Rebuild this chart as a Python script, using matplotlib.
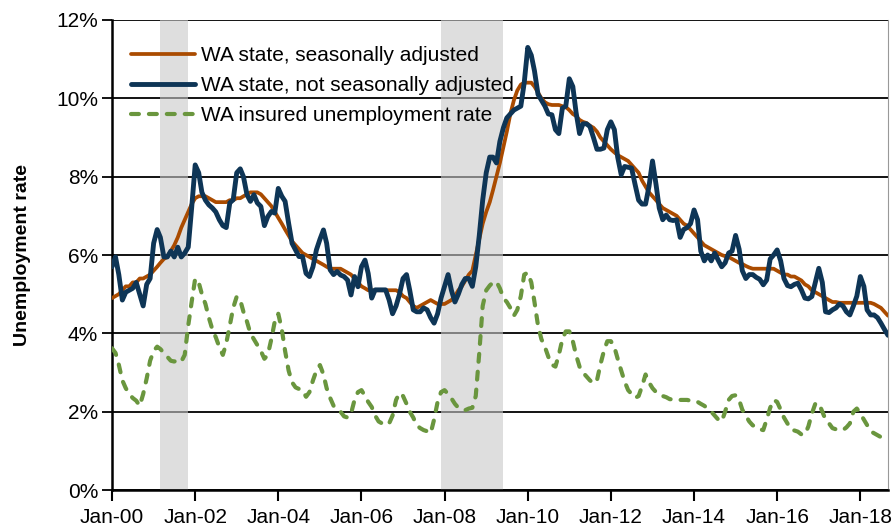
import pandas as pd
import matplotlib
matplotlib.use("Agg")
import matplotlib.pyplot as plt
import matplotlib.dates as mdates
from matplotlib.ticker import FuncFormatter

plt.rcParams['font.family'] = ['Liberation Sans', 'DejaVu Sans']

months = pd.date_range('2000-01-01', '2018-09-01', freq='MS')

# WA state, seasonally adjusted (%)
wa_sa = [
    4.9, 4.95, 5.0, 5.1, 5.2, 5.2, 5.3, 5.3, 5.4, 5.4, 5.45, 5.5,
    5.6, 5.7, 5.8, 5.9, 5.95, 6.1, 6.25, 6.45, 6.7, 6.9, 7.1, 7.3,
    7.45, 7.5, 7.5, 7.5, 7.45, 7.4, 7.35, 7.35, 7.35, 7.35, 7.4, 7.4,
    7.45, 7.45, 7.5, 7.55, 7.6, 7.6, 7.6, 7.55, 7.45, 7.35, 7.25, 7.1,
    6.95, 6.8, 6.65, 6.5, 6.35, 6.25, 6.15, 6.05, 6.0, 5.95, 5.9, 5.85,
    5.8, 5.75, 5.7, 5.65, 5.65, 5.65, 5.65, 5.6, 5.55, 5.5, 5.4, 5.3,
    5.2, 5.15, 5.1, 5.1, 5.1, 5.1, 5.1, 5.1, 5.1, 5.1, 5.1, 5.05,
    4.95, 4.9, 4.8, 4.7, 4.65, 4.7, 4.75, 4.8, 4.85, 4.8, 4.75, 4.75,
    4.75, 4.8, 4.85, 4.95, 5.1, 5.2, 5.35, 5.5, 5.6, 6.0, 6.4, 6.8,
    7.1, 7.35, 7.65, 8.0, 8.35, 8.75, 9.15, 9.6, 9.95, 10.2, 10.35, 10.4,
    10.4, 10.4, 10.3, 10.15, 10.0, 9.9, 9.85, 9.83, 9.83, 9.83, 9.8, 9.78,
    9.7, 9.6, 9.55, 9.45, 9.4, 9.37, 9.3, 9.25, 9.15, 9.0, 8.9, 8.8,
    8.7, 8.62, 8.55, 8.5, 8.45, 8.4, 8.3, 8.2, 8.1, 7.9, 7.75, 7.6,
    7.5, 7.4, 7.3, 7.2, 7.15, 7.1, 7.05, 7.0, 6.9, 6.8, 6.75, 6.65,
    6.55, 6.45, 6.35, 6.25, 6.2, 6.15, 6.1, 6.05, 6.0, 5.97, 5.95, 5.9,
    5.85, 5.8, 5.77, 5.72, 5.68, 5.65, 5.65, 5.65, 5.65, 5.65, 5.65, 5.65,
    5.6, 5.55, 5.5, 5.5, 5.45, 5.45, 5.4, 5.35, 5.25, 5.2, 5.1, 5.05,
    5.0, 4.95, 4.9, 4.85, 4.8, 4.8, 4.78, 4.78, 4.78, 4.78, 4.78, 4.78,
    4.78, 4.78, 4.78, 4.78, 4.75, 4.7, 4.65, 4.55, 4.45,
]

# WA state, not seasonally adjusted (%)
wa_nsa = [
    5.7, 5.95, 5.5, 4.85, 5.05, 5.1, 5.15, 5.3, 5.0, 4.7, 5.25, 5.4,
    6.3, 6.65, 6.45, 5.95, 5.95, 6.1, 5.95, 6.2, 5.95, 6.05, 6.2, 7.2,
    8.3, 8.1, 7.6, 7.4, 7.28, 7.2, 7.1, 6.9, 6.75, 6.7, 7.33, 7.41,
    8.1, 8.2, 8.0, 7.54, 7.37, 7.54, 7.33, 7.24, 6.75, 6.98, 7.11, 7.07,
    7.7, 7.5, 7.37, 6.81, 6.3, 6.13, 5.96, 5.96, 5.53, 5.45, 5.7, 6.13,
    6.4, 6.64, 6.3, 5.62, 5.5, 5.58, 5.49, 5.45, 5.36, 4.98, 5.45, 5.19,
    5.7, 5.87, 5.53, 4.9, 5.11, 5.11, 5.11, 5.11, 4.85, 4.5, 4.7, 5.0,
    5.4, 5.5, 5.1, 4.6, 4.55, 4.55, 4.65, 4.6, 4.4, 4.26, 4.5, 4.9,
    5.2, 5.5, 5.1, 4.8, 5.0, 5.25, 5.4, 5.4, 5.2, 5.7, 6.5, 7.4,
    8.1, 8.5, 8.5, 8.35, 8.9, 9.25, 9.5, 9.6, 9.7, 9.75, 9.8, 10.4,
    11.3, 11.1, 10.7, 10.1, 9.95, 9.8, 9.6, 9.58, 9.2, 9.1, 9.75, 9.8,
    10.5, 10.3, 9.65, 9.1, 9.35, 9.35, 9.28, 9.0, 8.7, 8.7, 8.73, 9.2,
    9.4, 9.2, 8.5, 8.05, 8.26, 8.24, 8.22, 7.8, 7.4, 7.3, 7.3, 7.75,
    8.4, 7.8, 7.2, 6.9, 7.02, 6.9, 6.88, 6.9, 6.45, 6.65, 6.7, 6.8,
    7.15, 6.9, 6.1, 5.85, 6.0, 5.85, 6.05, 5.87, 5.7, 5.8, 6.05, 6.1,
    6.5, 6.15, 5.6, 5.4, 5.5, 5.5, 5.43, 5.38, 5.24, 5.36, 5.9, 6.0,
    6.13, 5.85, 5.4, 5.22, 5.19, 5.25, 5.28, 5.11, 4.9, 4.88, 4.94, 5.3,
    5.66, 5.3, 4.55, 4.53, 4.6, 4.65, 4.75, 4.7, 4.55, 4.47, 4.7, 4.95,
    5.45, 5.2, 4.6, 4.47, 4.47, 4.4, 4.26, 4.1, 3.95,
]

# WA insured unemployment rate (%)
wa_insured = [
    3.62, 3.5, 3.2, 2.8, 2.6, 2.45, 2.35, 2.28, 2.15, 2.45, 2.85, 3.3,
    3.55, 3.66, 3.6, 3.5, 3.4, 3.3, 3.28, 3.32, 3.28, 3.45, 4.2, 4.8,
    5.4, 5.3, 5.0, 4.75, 4.4, 4.1, 3.9, 3.65, 3.45, 3.75, 4.2, 4.65,
    4.94, 4.85, 4.55, 4.3, 4.0, 3.85, 3.7, 3.55, 3.35, 3.45, 3.85, 4.3,
    4.5, 4.1, 3.55, 3.05, 2.75, 2.62, 2.58, 2.55, 2.38, 2.5, 2.8, 3.05,
    3.19, 2.95, 2.6, 2.35, 2.15, 2.05, 2.0, 1.88, 1.85, 1.95, 2.3, 2.5,
    2.55, 2.4, 2.25, 2.12, 1.9, 1.75, 1.7, 1.66, 1.7, 1.9, 2.3, 2.48,
    2.4, 2.2, 2.0, 1.85, 1.65, 1.58, 1.53, 1.5, 1.45, 1.8, 2.25, 2.5,
    2.55, 2.45, 2.34, 2.2, 2.1, 2.05, 2.04, 2.08, 2.1, 2.4, 3.5, 4.7,
    5.1, 5.22, 5.3, 5.32, 5.15, 4.9, 4.8, 4.65, 4.45, 4.6, 4.95, 5.5,
    5.55, 5.3, 4.8, 4.2, 3.85, 3.65, 3.4, 3.2, 3.15, 3.45, 3.85, 4.05,
    4.05, 3.8, 3.45, 3.15, 3.0, 2.9, 2.8, 2.72, 2.8, 3.2, 3.55, 3.8,
    3.8, 3.65, 3.35, 3.05, 2.77, 2.55, 2.45, 2.35, 2.4, 2.65, 2.95, 2.75,
    2.6, 2.5, 2.43, 2.4, 2.37, 2.32, 2.31, 2.3, 2.3, 2.3, 2.3, 2.28,
    2.27, 2.25, 2.2, 2.15, 2.08, 2.0, 1.9, 1.8, 1.75, 2.0, 2.3, 2.4,
    2.42, 2.3, 2.05, 1.9, 1.75, 1.65, 1.62, 1.55, 1.53, 1.8, 2.1, 2.3,
    2.25, 2.05, 1.85, 1.7, 1.55, 1.52, 1.49, 1.42, 1.42, 1.62, 1.95, 2.2,
    2.22, 2.0, 1.8, 1.7, 1.58, 1.55, 1.53, 1.53, 1.6, 1.7, 2.0, 2.08,
    1.95, 1.8, 1.66, 1.5, 1.45, 1.4, 1.35, 1.3, 1.25,
]

recessions = [('2001-03-01', '2001-11-01'), ('2007-12-01', '2009-06-01')]

fig = plt.figure(figsize=(8.93, 5.29), dpi=100)
ax = fig.add_axes([0.1254, 0.0737, 0.869, 0.8885])

ax.set_ylim(0, 12)
ax.set_xlim(months[0], months[-1])
ax.set_yticks(range(0, 13, 2))
ax.yaxis.set_major_formatter(FuncFormatter(lambda v, p: '%d%%' % v))
ax.grid(axis='y', color='black', lw=1.3, zorder=1)
ax.set_axisbelow(True)

for start, end in recessions:
    ax.axvspan(pd.Timestamp(start), pd.Timestamp(end), color='#c8c8c8',
               alpha=0.6, lw=0, zorder=2)

ax.plot(months, wa_insured, color='#6A963E', lw=3.0, dashes=(1.9, 2.4),
        dash_capstyle='round', label='WA insured unemployment rate', zorder=3)
ax.plot(months, wa_sa, color='#AA4B00', lw=2.7, solid_capstyle='round',
        label='WA state, seasonally adjusted', zorder=4)
ax.plot(months, wa_nsa, color='#0E3556', lw=3.5, solid_capstyle='round',
        solid_joinstyle='round', label='WA state, not seasonally adjusted', zorder=5)

ticks = pd.date_range('2000-01-01', '2018-01-01', freq='24MS')
ax.set_xticks(ticks)
ax.xaxis.set_major_formatter(mdates.DateFormatter('%b-%y'))
ax.tick_params(axis='x', direction='out', length=8, width=1.5, labelsize=15, pad=5)
ax.tick_params(axis='y', direction='out', length=7, width=1.3, labelsize=15, pad=3)

ax.spines['top'].set_visible(False)
ax.spines['right'].set_color('#999999')
ax.spines['left'].set_linewidth(1.8)
ax.spines['bottom'].set_linewidth(1.8)

ax.set_ylabel('Unemployment rate', fontsize=14, fontweight='bold', labelpad=18)

h, l = ax.get_legend_handles_labels()
order = [1, 2, 0]
leg = ax.legend([h[i] for i in order], [l[i] for i in order], loc='upper left',
                bbox_to_anchor=(0.0, 0.985), frameon=False, fontsize=15,
                handlelength=3.1, handletextpad=0.25, labelspacing=0.53,
                borderaxespad=0.5)
leg.set_zorder(10)

fig.savefig('out.png', dpi=100)
